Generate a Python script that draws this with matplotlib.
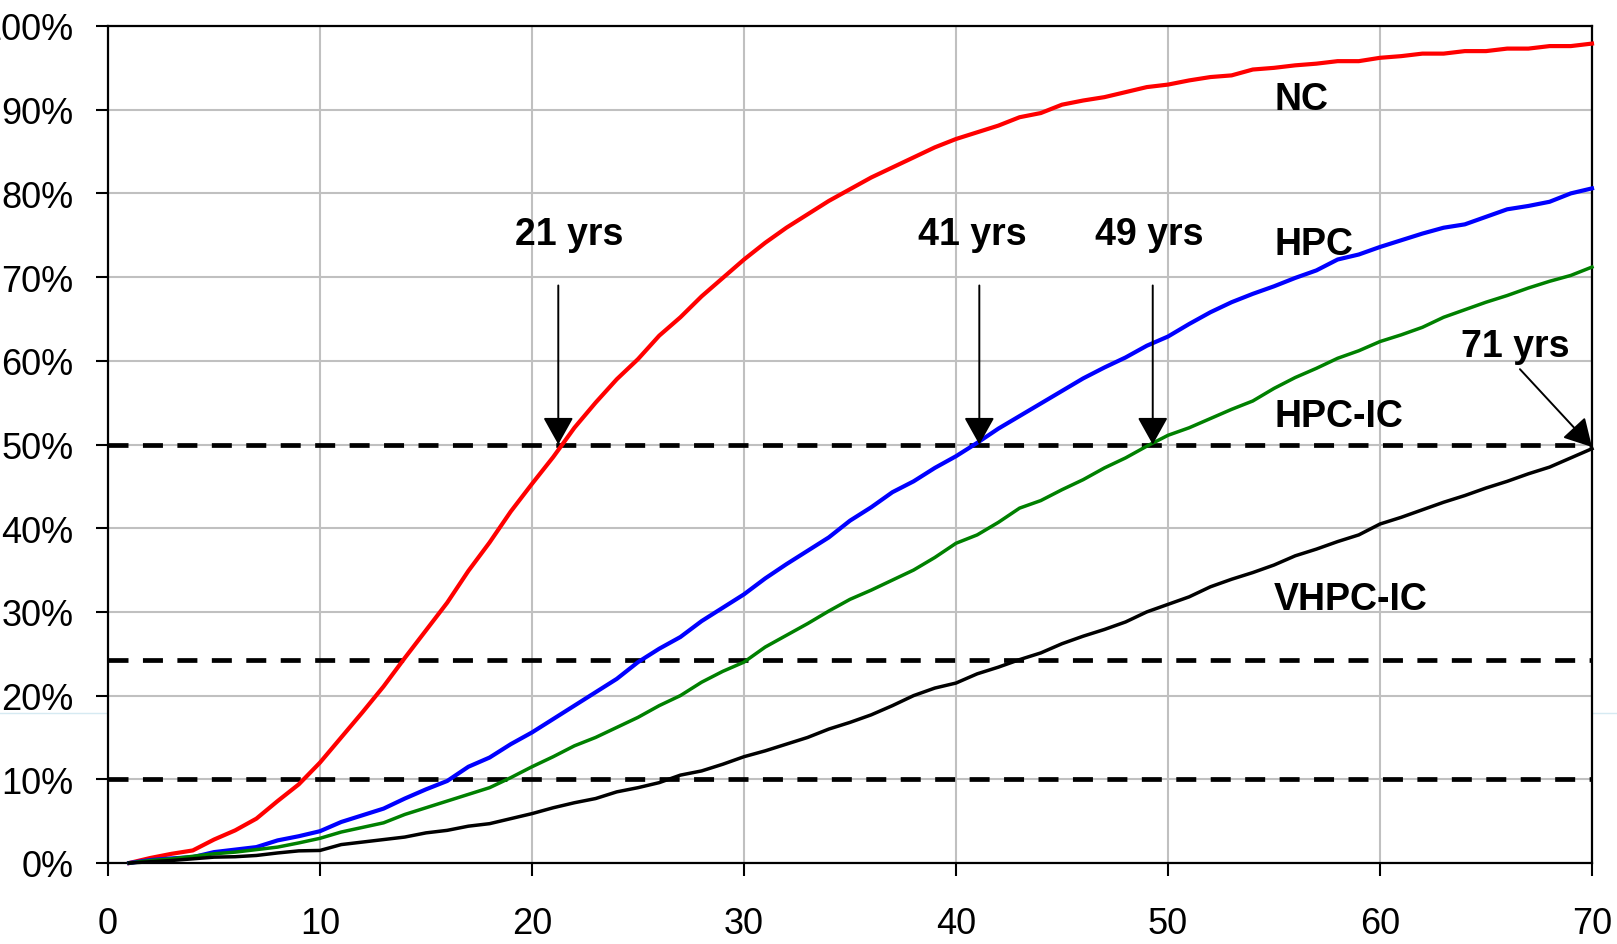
import matplotlib
matplotlib.use("Agg")
import matplotlib.pyplot as plt
from matplotlib.lines import Line2D
from matplotlib.ticker import FuncFormatter, MultipleLocator

plt.rcParams["font.family"] = ["Liberation Sans", "DejaVu Sans"]
plt.rcParams["lines.scale_dashes"] = False

# Years since start
years = list(range(1, 71))

# Cumulative share (%) per scenario
nc = [0, 0.6, 1.1, 1.5, 2.8, 3.9, 5.3, 7.4, 9.4, 12.0,
      15.0, 18.0, 21.1, 24.5, 27.8, 31.1, 34.9, 38.3, 42.0, 45.3,
      48.5, 52.0, 55.0, 57.8, 60.2, 63.0, 65.2, 67.7, 69.9, 72.1,
      74.1, 75.9, 77.5, 79.1, 80.5, 81.9, 83.1, 84.3, 85.5, 86.5,
      87.3, 88.1, 89.1, 89.6, 90.6, 91.1, 91.5, 92.1, 92.7, 93.0,
      93.5, 93.9, 94.1, 94.8, 95.0, 95.3, 95.5, 95.8, 95.8, 96.2,
      96.4, 96.7, 96.7, 97.0, 97.0, 97.3, 97.3, 97.6, 97.6, 97.9]

hpc = [0, 0.35, 0.55, 0.7, 1.3, 1.6, 1.9, 2.7, 3.2, 3.8,
       4.9, 5.7, 6.5, 7.7, 8.8, 9.8, 11.5, 12.6, 14.2, 15.6,
       17.2, 18.8, 20.4, 22.0, 24.0, 25.6, 27.0, 28.9, 30.5, 32.1,
       34.0, 35.7, 37.3, 38.9, 40.9, 42.5, 44.3, 45.6, 47.2, 48.6,
       50.2, 51.9, 53.4, 54.9, 56.4, 57.9, 59.2, 60.4, 61.8, 62.9,
       64.4, 65.8, 67.0, 68.0, 68.9, 69.9, 70.8, 72.1, 72.7, 73.6,
       74.4, 75.2, 75.9, 76.3, 77.2, 78.1, 78.5, 79.0, 80.0, 80.6]

hpc_ic = [0, 0.3, 0.5, 0.8, 1.1, 1.3, 1.6, 1.9, 2.4, 2.95,
          3.7, 4.25, 4.8, 5.8, 6.6, 7.4, 8.2, 9.0, 10.2, 11.5,
          12.7, 14.0, 15.0, 16.2, 17.4, 18.8, 20.0, 21.6, 22.9, 24.0,
          25.8, 27.2, 28.6, 30.1, 31.5, 32.6, 33.8, 35.0, 36.5, 38.2,
          39.2, 40.7, 42.4, 43.3, 44.6, 45.8, 47.2, 48.4, 49.8, 51.1,
          52.0, 53.1, 54.2, 55.2, 56.7, 58.0, 59.1, 60.3, 61.2, 62.3,
          63.1, 64.0, 65.2, 66.1, 67.0, 67.8, 68.7, 69.5, 70.2, 71.2]

vhpc_ic = [0, 0.15, 0.3, 0.5, 0.7, 0.75, 0.9, 1.2, 1.45, 1.5,
           2.2, 2.5, 2.8, 3.1, 3.6, 3.9, 4.4, 4.7, 5.3, 5.9,
           6.6, 7.2, 7.7, 8.5, 9.0, 9.6, 10.5, 11.0, 11.8, 12.7,
           13.4, 14.2, 15.0, 16.0, 16.8, 17.7, 18.8, 20.0, 20.9, 21.5,
           22.6, 23.4, 24.3, 25.1, 26.2, 27.1, 27.9, 28.8, 30.0, 30.9,
           31.8, 33.0, 33.9, 34.7, 35.6, 36.7, 37.5, 38.4, 39.2, 40.5,
           41.3, 42.2, 43.1, 43.9, 44.8, 45.6, 46.5, 47.3, 48.4, 49.5]

series_names = ["NC", "HPC", "HPC-IC", "VHPC-IC"]
series_colors = ["#ff0000", "#0000ff", "#008000", "#000000"]
series_widths = [3.0, 3.0, 2.5, 2.5]

# Reference thresholds (dashed)
thresholds = [50, 24.2, 10]

# Series name labels: (x, y)
name_pos = [(55, 90.1), (55, 72.8), (55, 52.2), (55, 30.3)]

# Years-to-50% annotations: label, label pos, arrow start, arrow tip
crossings = [
    ("21 yrs", (19.2, 74.0), (21.24, 69.0), (21.24, 50.0)),
    ("41 yrs", (38.2, 74.0), (41.1, 69.0), (41.1, 50.0)),
    ("49 yrs", (46.55, 74.0), (49.28, 69.0), (49.28, 50.0)),
    ("71 yrs", (63.8, 60.6), (66.6, 59.0), (70.0, 49.7)),
]

fig = plt.figure(figsize=(16.17, 9.45), dpi=100)
ax = fig.add_axes([108 / 1617, 1 - 864 / 945, (1592 - 108) / 1617, (864 - 27) / 945])

ax.set_xlim(0, 70)
ax.set_ylim(0, 100)
ax.xaxis.set_major_locator(MultipleLocator(10))
ax.yaxis.set_major_locator(MultipleLocator(10))
ax.yaxis.set_major_formatter(FuncFormatter(lambda v, p: f"{v:.0f}%"))
ax.grid(True, color="#c0c0c0", linewidth=1.5, zorder=0)
ax.set_axisbelow(True)
for s in ax.spines.values():
    s.set_color("black")
    s.set_linewidth(1.6)
ax.tick_params(axis="both", direction="out", length=9, width=1.5,
               labelsize=26, colors="black")
ax.tick_params(axis="y", pad=16)
ax.tick_params(axis="x", pad=22)

for y in thresholds:
    ax.plot([0, 70], [y, y], color="black", linewidth=3.4,
            linestyle=(0, (14.4, 10.4)), dash_capstyle="butt", zorder=2)

for vals, c, lw in zip([nc, hpc, hpc_ic, vhpc_ic], series_colors, series_widths):
    ax.plot(years, vals, color=c, linewidth=lw, zorder=3, clip_on=False,
            solid_joinstyle="round")

for name, (x, y) in zip(series_names, name_pos):
    ax.text(x, y, name, fontsize=27, fontweight="bold", ha="left",
            va="baseline", zorder=5)

for label, (tx, ty), (ax0, ay0), (ax1, ay1) in crossings:
    ax.text(tx, ty, label, fontsize=27, fontweight="bold", ha="left",
            va="baseline", zorder=5)
    ax.annotate("", xy=(ax1, ay1), xytext=(ax0, ay0),
                arrowprops=dict(arrowstyle="-|>,head_length=17,head_width=9.5",
                                mutation_scale=1, color="black", lw=1.4,
                                shrinkA=0, shrinkB=0),
                annotation_clip=False, zorder=6)

# faint horizontal rule across the figure
fig.add_artist(Line2D([0, 1], [1 - 713.5 / 945] * 2, transform=fig.transFigure,
                      color="#d6eaf2", linewidth=1.0, zorder=0))

fig.savefig("out.png", dpi=100)
